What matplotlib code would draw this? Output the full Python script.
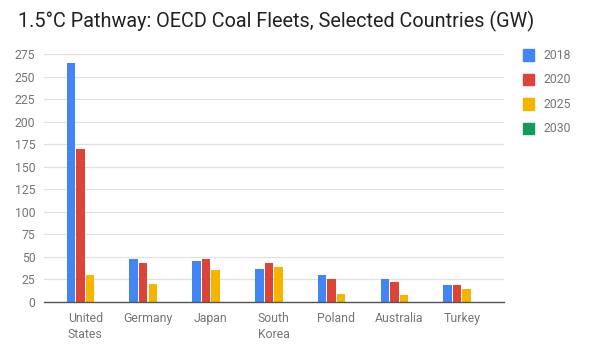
import numpy as np
import matplotlib.pyplot as plt

plt.rcParams['font.family'] = ['Roboto', 'DejaVu Sans']

countries = ['United\nStates', 'Germany', 'Japan', 'South\nKorea', 'Poland', 'Australia', 'Turkey']
years = ['2018', '2020', '2025', '2030']
gw_2018 = [265, 48, 45, 37, 30, 26, 19]
gw_2020 = [170, 43, 48, 43, 25, 22, 19]
gw_2025 = [30, 20, 36, 39, 9, 8, 14]
gw_2030 = [0, 0, 0, 0, 0, 0, 0]
colors = ['#4285F4', '#DB4437', '#F4B400', '#0F9D58']

fig = plt.figure(figsize=(6, 3.6), dpi=100)
ax = fig.add_axes([0.073, 0.161, 0.767, 0.689])

x = np.arange(len(countries))
step = 0.152
width = 0.135
for i, vals in enumerate([gw_2018, gw_2020, gw_2025, gw_2030]):
    ax.bar(x + (i - 1.5) * step, vals, width, color=colors[i], zorder=3)

ax.set_xlim(-0.66, 6.67)
ax.set_ylim(0, 275)
ax.set_yticks(range(0, 276, 25))
ax.set_xticks(x)
ax.set_xticklabels(countries, linespacing=1.35)
ax.tick_params(axis='both', length=0, labelsize=8.8, labelcolor='#757575')
ax.tick_params(axis='x', pad=7)
ax.tick_params(axis='y', pad=6)
ax.grid(axis='y', color='#e0e0e0', linewidth=0.9, zorder=0)
for s in ['top', 'right', 'left']:
    ax.spines[s].set_visible(False)
ax.spines['bottom'].set_color('#555555')
ax.spines['bottom'].set_linewidth(1.0)
ax.spines['bottom'].set_zorder(4)

fig.text(0.03, 0.94, '1.5°C Pathway: OECD Coal Fleets, Selected Countries (GW)',
         fontsize=14.3, color='#222222', va='center', ha='left')

# legend
for i, y in enumerate(years):
    yy = 0.847 - i * 0.068
    fig.patches.append(plt.Rectangle((0.872, yy - 0.016), 0.0185, 0.032,
                                     transform=fig.transFigure, color=colors[i]))
    fig.text(0.905, yy, y, fontsize=8.8, color='#757575', va='center', ha='left')

fig.savefig('out.png', dpi=100)
